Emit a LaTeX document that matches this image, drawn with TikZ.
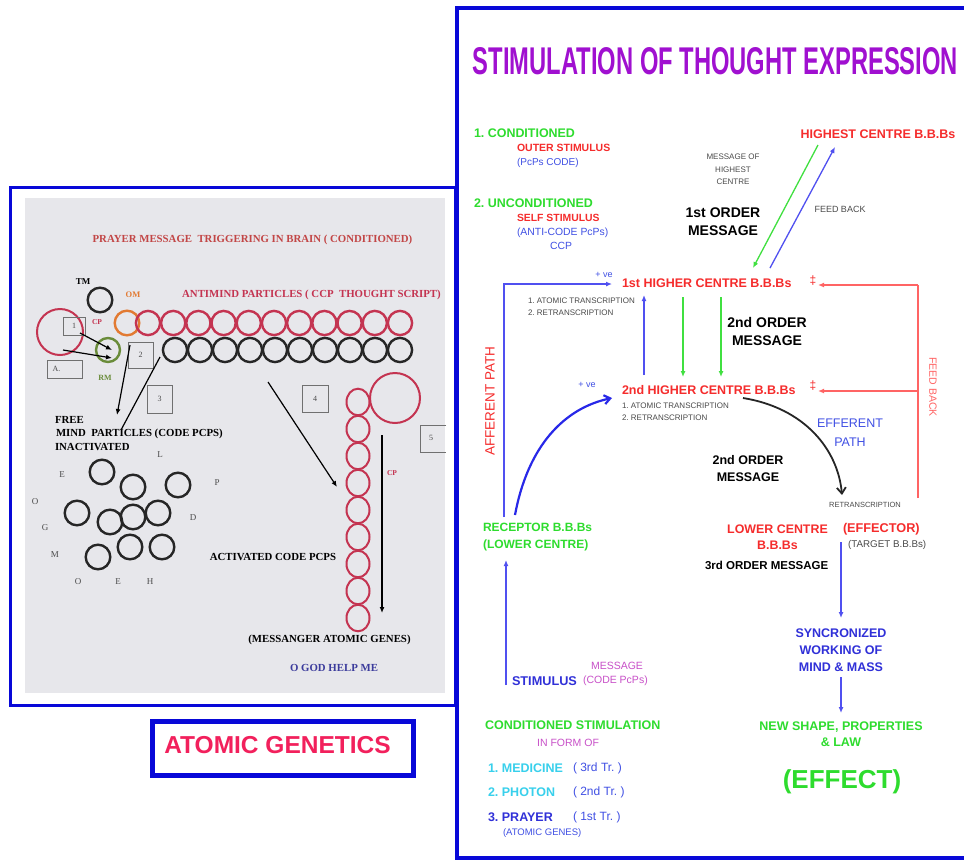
\documentclass[tikz,border=0pt]{standalone}
\usepackage{fontspec}
\setmainfont{Liberation Serif}
\setsansfont{Liberation Sans}
\usetikzlibrary{arrows.meta}
\frenchspacing
\definecolor{fblue}{HTML}{0808D8}
\definecolor{tgreen}{HTML}{2EDC2E}
\definecolor{tred}{HTML}{F52C2C}
\definecolor{tblue}{HTML}{4050E4}
\definecolor{dblue}{HTML}{3030D8}
\definecolor{lblue}{HTML}{5050F0}
\definecolor{cblue}{HTML}{2828E8}
\definecolor{lgreen}{HTML}{40E040}
\definecolor{lred}{HTML}{FF6464}
\definecolor{tpurple}{HTML}{A010D0}
\definecolor{tmag}{HTML}{C850C8}
\definecolor{tcyan}{HTML}{38D0EC}
\definecolor{tgray}{HTML}{4A4A4A}
\definecolor{panelgray}{HTML}{E7E7EB}
\definecolor{cred}{HTML}{C43451}
\definecolor{pred}{HTML}{C24646}
\definecolor{agpink}{HTML}{F2205C}
\definecolor{rmgreen}{HTML}{6A8C3A}
\definecolor{omorange}{HTML}{E27A32}
\definecolor{godblue}{HTML}{3C3C9C}
\definecolor{boxgray}{HTML}{707070}
\newcommand{\fsz}[2]{\fontsize{#1}{#2}\selectfont}
\begin{document}
\begin{tikzpicture}[x=1pt,y=-1pt,
  t/.style={inner sep=0pt,outer sep=0pt},
  ser/.style={t,font=\rmfamily\bfseries\fsz{10.8}{13}},
  letter/.style={t,font=\rmfamily\fsz{9}{10},text=tgray},
  numbox/.style={draw=boxgray,line width=0.8pt,inner sep=0pt,font=\rmfamily\fsz{8}{9},text=tgray},
  ring/.style={circle,draw,line width=2.4pt,inner sep=0pt,minimum size=24.6pt},
  sb/.style={t,font=\sffamily\bfseries\fsz{#1}{#1}},
  sr/.style={t,font=\sffamily\fsz{#1}{#1}},
  tip/.style={-{Latex[length=6pt,width=5pt]}},
  thinb/.style={lblue,line width=1.3pt,tip},
  thing/.style={lgreen,line width=1.3pt,tip},
  thinr/.style={lred,line width=1.3pt},
  blk/.style={black,line width=1.2pt}
]
\useasboundingbox (0,0) rectangle (964,863);
\fill[white] (0,0) rectangle (964,863);

% ================= LEFT PANEL =================
\fill[panelgray] (25,198) rectangle (445,693);
\draw[fblue,line width=3pt] (10,187) rectangle (455,705);

\node[ser,text=pred] (prayer) at (252.5,240) {PRAYER MESSAGE\ \ TRIGGERING IN BRAIN ( CONDITIONED)};
\node[t,font=\rmfamily\bfseries\fsz{9}{10}] (tm) at (83,282) {TM};
\node[ring,draw=black!85] (tmc) at (100,300) {};
\node[circle,draw=cred,line width=2pt,inner sep=0pt,minimum size=46pt] (bigc) at (60,332) {};
\node[numbox,minimum width=22pt,minimum height=18pt] (bx1) at (74,326) {1};
\node[t,font=\rmfamily\bfseries\fsz{7.5}{8},text=cred] (cp1) at (97,322) {CP};
\node[ring,draw=omorange] (om) at (127,323) {};
\node[t,font=\rmfamily\bfseries\fsz{8.5}{9},text=omorange] (omt) at (133,295) {OM};
\node[ser,text=cred] (anti) at (311.5,295) {ANTIMIND PARTICLES ( CCP\ \ THOUGHT SCRIPT)};
\foreach \i in {0,...,10} {
  \node[ring,draw=cred,minimum size=24.2pt] (r\i) at ({148+25.2*\i},323) {};
}
\foreach \i in {0,...,9} {
  \node[ring,draw=black!85,minimum size=24.2pt] (k\i) at ({175+25*\i},350) {};
}
\node[ring,draw=rmgreen,minimum size=24pt] (rm) at (108,350) {};
\node[t,font=\rmfamily\bfseries\fsz{8}{9},text=rmgreen] (rmt) at (105,378) {RM};
\node[numbox,minimum width=25pt,minimum height=26pt] (bx2) at (140.5,355) {2};
\node[numbox,minimum width=35pt,minimum height=18pt,align=left] (bxa) at (64.5,369) {A.\hspace{16pt}};
\coordinate (a1s) at (80,333); \coordinate (a1e) at (112,350);
\coordinate (a2s) at (63,350); \coordinate (a2e) at (112,358);
\draw[blk,tip] (a1s) -- (a1e);
\draw[blk,tip] (a2s) -- (a2e);
\node[numbox,minimum width=25pt,minimum height=28pt] (bx3) at (159.5,399) {3};
\coordinate (l1s) at (130,345); \coordinate (l1e) at (117,415);
\coordinate (l2s) at (160,357); \coordinate (l2e) at (121,430);
\draw[blk,tip] (l1s) -- (l1e);
\draw[blk] (l2s) -- (l2e);
\node[ser,anchor=west] (free) at (55,420) {FREE};
\node[ser,anchor=west] (mindp) at (56,434) {MIND\ \ PARTICLES (CODE PCPS)};
\node[ser,anchor=west] (inact) at (55,447) {INACTIVATED};
\foreach \p [count=\n] in {(102,472),(133,487),(178,485),(77,513),(110,522),(133,517),(158,513),(130,547),(162,547),(98,557)} {
  \node[ring,draw=black!85] (q\n) at \p {};
}
\node[letter] (lE1) at (62,475) {E};
\node[letter] (lL) at (160,455) {L};
\node[letter] (lP) at (217,483) {P};
\node[letter] (lO1) at (35,502) {O};
\node[letter] (lD) at (193,518) {D};
\node[letter] (lG) at (45,528) {G};
\node[letter] (lM) at (55,555) {M};
\node[letter] (lO2) at (78,582) {O};
\node[letter] (lE2) at (118,582) {E};
\node[letter] (lH) at (150,582) {H};
\node[numbox,minimum width=26pt,minimum height=27pt] (bx4) at (315,398.5) {4};
\node[circle,draw=cred,line width=2pt,inner sep=0pt,minimum size=50pt] (bigr) at (395,398) {};
\foreach \i in {0,...,8} {
  \draw[cred,line width=2pt] (358,{402+27*\i}) ellipse [x radius=11.5pt,y radius=13.3pt];
  \coordinate (v\i) at (358,{402+27*\i});
}
\draw[boxgray,line width=0.8pt] (446,425) -- (420,425) -- (420,452) -- (446,452);
\node[t,font=\rmfamily\fsz{8}{9},text=tgray] (n5) at (431,438) {5};
\coordinate (cps) at (382,435); \coordinate (cpe) at (382,613);
\draw[blk,tip] (cps) -- (cpe);
\node[t,font=\rmfamily\bfseries\fsz{7.5}{8},text=cred] (cp2) at (392,473) {CP};
\coordinate (ds) at (268,382); \coordinate (de) at (337,487);
\draw[blk,tip] (ds) -- (de);
\node[ser] (activ) at (273,557) {ACTIVATED CODE PCPS};
\node[ser] (messg) at (329.5,640) {(MESSANGER ATOMIC GENES)};
\node[ser,text=godblue] (ogod) at (334,668) {O GOD HELP ME};

% ATOMIC GENETICS box
\node[draw=fblue,line width=5pt,minimum width=261pt,minimum height=54pt,inner sep=0pt] (agbox) at (282.5,748) {};
\node[sb=24.5,text=agpink] (ag) at (277.5,745) {ATOMIC GENETICS};

% ================= RIGHT PANEL =================
\draw[fblue,line width=4pt] (966,8) -- (457,8) -- (457,858) -- (966,858);
\node[t,text=tpurple] (title) at (715.5,61.5) {\resizebox{485pt}{27pt}{\sffamily\bfseries STIMULATION OF THOUGHT EXPRESSION}};

\node[sb=12.45,text=tgreen,anchor=west] (cond1) at (474,133) {1. CONDITIONED};
\node[sb=10.5,text=tred,anchor=west] (outer) at (517,148) {OUTER STIMULUS};
\node[sr=10,text=tblue,anchor=west] (pcps) at (517,163) {(PcPs CODE)};
\node[sb=12.45,text=tgreen,anchor=west] (uncond) at (474,203) {2. UNCONDITIONED};
\node[sb=10.4,text=tred,anchor=west] (selfs) at (517,218) {SELF STIMULUS};
\node[sr=10.4,text=tblue,anchor=west] (antic) at (517,233) {(ANTI-CODE PcPs)};
\node[sr=10.4,text=tblue] (ccp) at (561,246) {CCP};

\node[sb=12.5,text=tred] (highest) at (878,134) {HIGHEST CENTRE B.B.Bs};
\node[t,font=\sffamily\fsz{8}{12.5},text=tgray,align=center] (msgof) at (733,169.5) {MESSAGE OF\\HIGHEST\\CENTRE};
\node[t,font=\sffamily\bfseries\fsz{14}{18},align=center] (ord1) at (723,222) {1st ORDER\\MESSAGE};
\node[sr=9,text=tgray] (fbtop) at (840,209) {FEED BACK};

\node[sb=12.5,text=tred,anchor=west] (h1) at (622,283) {1st HIGHER CENTRE B.B.Bs};
\node[sr=9,text=tblue] (pve1) at (604,275) {+ ve};
\node[t,font=\sffamily\fsz{8}{12},text=tgray,align=left,anchor=west] (at1) at (528,307) {1. ATOMIC TRANSCRIPTION\\2. RETRANSCRIPTION};
\node[t,font=\sffamily\bfseries\fsz{14}{18},align=center] (ord2) at (767,331) {2nd ORDER\\MESSAGE};
\node[sb=12.5,text=tred,anchor=west] (h2) at (622,390) {2nd HIGHER CENTRE B.B.Bs};
\node[sr=9,text=tblue] (pve2) at (587,385) {+ ve};
\node[t,font=\sffamily\fsz{8}{12.5},text=tgray,align=left,anchor=west] (at2) at (622,411.5) {1. ATOMIC TRANSCRIPTION\\2. RETRANSCRIPTION};
\node[sr=12,text=tred] (dg1) at (813,281) {‡};
\node[sr=12,text=tred] (dg2) at (813,386) {‡};
\node[sr=13.5,text=tred,rotate=90] (aff) at (490,401) {AFFERENT PATH};
\node[sr=10.5,text=lred,rotate=-90] (fbv) at (933,387) {FEED BACK};
\node[t,font=\sffamily\fsz{12.5}{19},text=tblue,align=center] (eff) at (850,432.5) {EFFERENT\\PATH};
\node[t,font=\sffamily\bfseries\fsz{12.5}{17},align=center] (ord2b) at (748,468.5) {2nd ORDER\\MESSAGE};
\node[sr=7.5,text=tgray] (retr) at (865,505) {RETRANSCRIPTION};

\node[t,font=\sffamily\bfseries\fsz{12}{17},text=tgreen,align=left,anchor=west] (recep) at (483,537.5) {RECEPTOR B.B.Bs\\(LOWER CENTRE)};
\node[t,font=\sffamily\bfseries\fsz{12.4}{16},text=tred,align=center] (lower) at (777.5,537) {LOWER CENTRE\\B.B.Bs};
\node[sb=12.7,text=tred,anchor=west] (effector) at (843,529) {(EFFECTOR)};
\node[sr=9.8,text=tgray,anchor=west] (target) at (848,545) {(TARGET B.B.Bs)};
\node[sb=11.5,anchor=west] (ord3) at (705,565) {3rd ORDER MESSAGE};

\node[t,font=\sffamily\bfseries\fsz{12.5}{17},text=dblue,align=center] (sync) at (841,650) {SYNCRONIZED\\WORKING OF\\MIND \& MASS};
\node[t,font=\sffamily\bfseries\fsz{12.5}{16},text=tgreen,align=center] (newsh) at (841,734) {NEW SHAPE, PROPERTIES\\\& LAW};
\node[sb=26,text=tgreen] (effect) at (842,782) {(EFFECT)};

\node[sb=12.7,text=dblue,anchor=west] (stim) at (512,681) {STIMULUS};
\node[sr=10.5,text=tmag] (msg) at (617,666) {MESSAGE};
\node[sr=10.5,text=tmag,anchor=west] (codep) at (583,681) {(CODE PcPs)};
\node[sb=12.5,text=tgreen,anchor=west] (condst) at (485,725) {CONDITIONED STIMULATION};
\node[sr=10.5,text=tmag] (inform) at (568,743) {IN FORM OF};
\node[sb=12.5,text=tcyan,anchor=west] (med) at (488,768) {1. MEDICINE};
\node[sr=12,text=tblue,anchor=west] (tr3) at (573,768) {( 3rd Tr. )};
\node[sb=12.5,text=tcyan,anchor=west] (pho) at (488,792) {2. PHOTON};
\node[sr=12,text=tblue,anchor=west] (tr2) at (573,792) {( 2nd Tr. )};
\node[sb=12.5,text=dblue,anchor=west] (pra) at (488,817) {3. PRAYER};
\node[sr=12,text=tblue,anchor=west] (tr1) at (573,817) {( 1st Tr. )};
\node[sr=9.5,text=tblue,anchor=west] (atg) at (503,833) {(ATOMIC GENES)};

% connectors
\coordinate (gS) at (818,145); \coordinate (gE) at (753,268);
\draw[thing] (gS) -- (gE);
\coordinate (fS) at (770,268); \coordinate (fE) at (835,147);
\draw[thinb] (fS) -- (fE);
\coordinate (aS) at (504,517); \coordinate (aE) at (612,284);
\draw[thinb] (aS) |- (aE);
\coordinate (uS) at (644,375); \coordinate (uE) at (644,295);
\draw[thinb] (uS) -- (uE);
\coordinate (d1S) at (683,297); \coordinate (d1E) at (683,377);
\coordinate (d2S) at (721,297); \coordinate (d2E) at (721,377);
\draw[thing] (d1S) -- (d1E);
\draw[thing] (d2S) -- (d2E);
\coordinate (rB) at (918,498); \coordinate (rT) at (918,285);
\coordinate (rE1) at (818,285); \coordinate (rM) at (918,391); \coordinate (rE2) at (818,391);
\draw[thinr] (rB) -- (rT);
\draw[thinr,tip] (rT) -- (rE1);
\draw[thinr,tip] (rM) -- (rE2);
\coordinate (cS) at (515,515); \coordinate (cE) at (612,398);
\draw[cblue,line width=2.2pt,-{Straight Barb[length=6pt,width=9pt]}] (cS) .. controls (528,445) and (565,408) .. (cE);
\coordinate (kS) at (743,398); \coordinate (kE) at (842,495);
\draw[black!85,line width=1.8pt,-{Straight Barb[length=6pt,width=9pt]}] (kS) .. controls (805,408) and (838,450) .. (kE);
\coordinate (e1S) at (841,542); \coordinate (e1E) at (841,618);
\draw[thinb] (e1S) -- (e1E);
\coordinate (sS) at (506,685); \coordinate (sE) at (506,560);
\draw[thinb] (sS) -- (sE);
\coordinate (e2S) at (841,677); \coordinate (e2E) at (841,713);
\draw[thinb] (e2S) -- (e2E);
\end{tikzpicture}
\end{document}
